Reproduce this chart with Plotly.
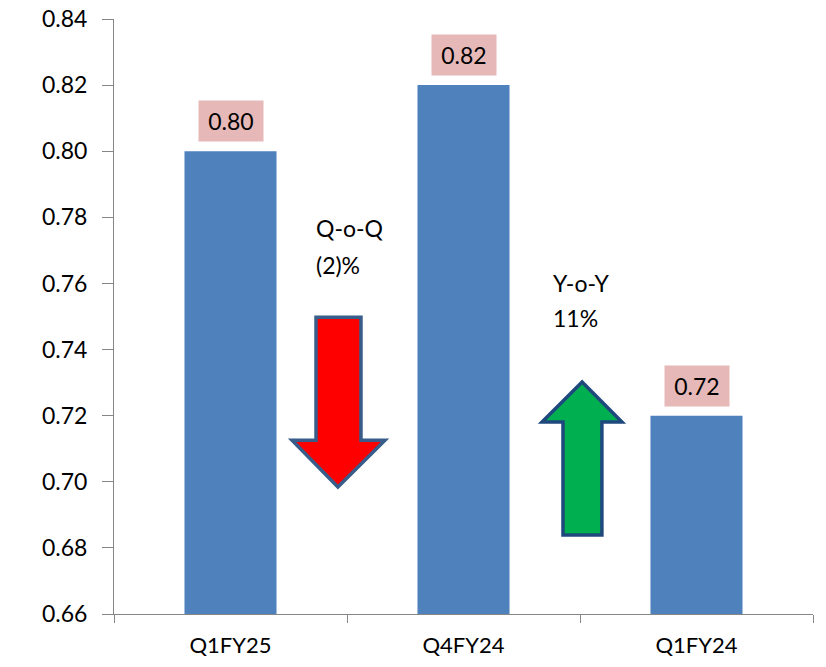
import plotly.graph_objects as go

categories = ["Q1FY25", "Q4FY24", "Q1FY24"]
values = [0.80, 0.82, 0.72]
value_labels = ["0.80", "0.82", "0.72"]
y_ticks = [0.66, 0.68, 0.70, 0.72, 0.74, 0.76, 0.78, 0.80, 0.82, 0.84]

FONT = "Lato"
fig = go.Figure()
fig.add_trace(go.Bar(x=categories, y=values, marker=dict(color="#4F81BD", line=dict(width=0)),
                     width=0.395, hoverinfo="skip"))

for c, v, t in zip(categories, values, value_labels):
    fig.add_annotation(x=c, y=v, text=t, showarrow=False, yanchor="bottom", yshift=9,
                       bgcolor="#E6B9B8", width=64, height=40, borderpad=0,
                       font=dict(family=FONT, size=23, color="#000000"))

def arrow_path(pts):
    return "M " + " L ".join(f"{x},{y}" for x, y in pts) + " Z"

down = [(0.367, 0.7498), (0.560, 0.7498), (0.560, 0.7126), (0.663, 0.7126),
        (0.461, 0.6984), (0.264, 0.7126), (0.367, 0.7126)]
up = [(1.427, 0.6839), (1.594, 0.6839), (1.594, 0.7181), (1.680, 0.7181),
      (1.509, 0.7302), (1.337, 0.7181), (1.427, 0.7181)]
fig.add_shape(type="path", xref="x", yref="y", path=arrow_path(down),
              fillcolor="#FF0000", line=dict(color="#385D8A", width=3.5))
fig.add_shape(type="path", xref="x", yref="y", path=arrow_path(up),
              fillcolor="#00B050", line=dict(color="#1F497D", width=3.5))

captions = [
    (0.358, 0.7768, "Q-o-Q"),
    (0.358, 0.7656, "(2)%"),
    (1.375, 0.7600, "Y-o-Y"),
    (1.375, 0.7494, "11%"),
]
for x, y, t in captions:
    fig.add_annotation(x=x, y=y, xref="x", yref="y", text=t, showarrow=False,
                       xanchor="left", yanchor="middle", align="left",
                       font=dict(family=FONT, size=23, color="#000000"))

fig.update_layout(
    width=826, height=667,
    margin=dict(l=114, r=13, t=19, b=53),
    plot_bgcolor="#FFFFFF", paper_bgcolor="#FFFFFF",
    showlegend=False,
    bargap=0.6,
    xaxis=dict(type="category", range=[-0.5, 2.5], showline=True, linecolor="#868686", linewidth=1,
               ticks="outside", tickson="boundaries", ticklen=8, tickcolor="#868686",
               showgrid=False, automargin=False, ticklabelstandoff=12,
               tickfont=dict(family=FONT, size=22, color="#000000")),
    yaxis=dict(range=[0.66, 0.84], tickvals=y_ticks, ticktext=[f"{v:.2f}" for v in y_ticks],
               showline=True, linecolor="#868686", linewidth=1, ticks="outside", ticklen=11,
               tickcolor="#868686", showgrid=False, zeroline=False, automargin=False,
               ticklabelstandoff=10,
               tickfont=dict(family=FONT, size=23, color="#000000")),
)
fig.write_html("out.html")
